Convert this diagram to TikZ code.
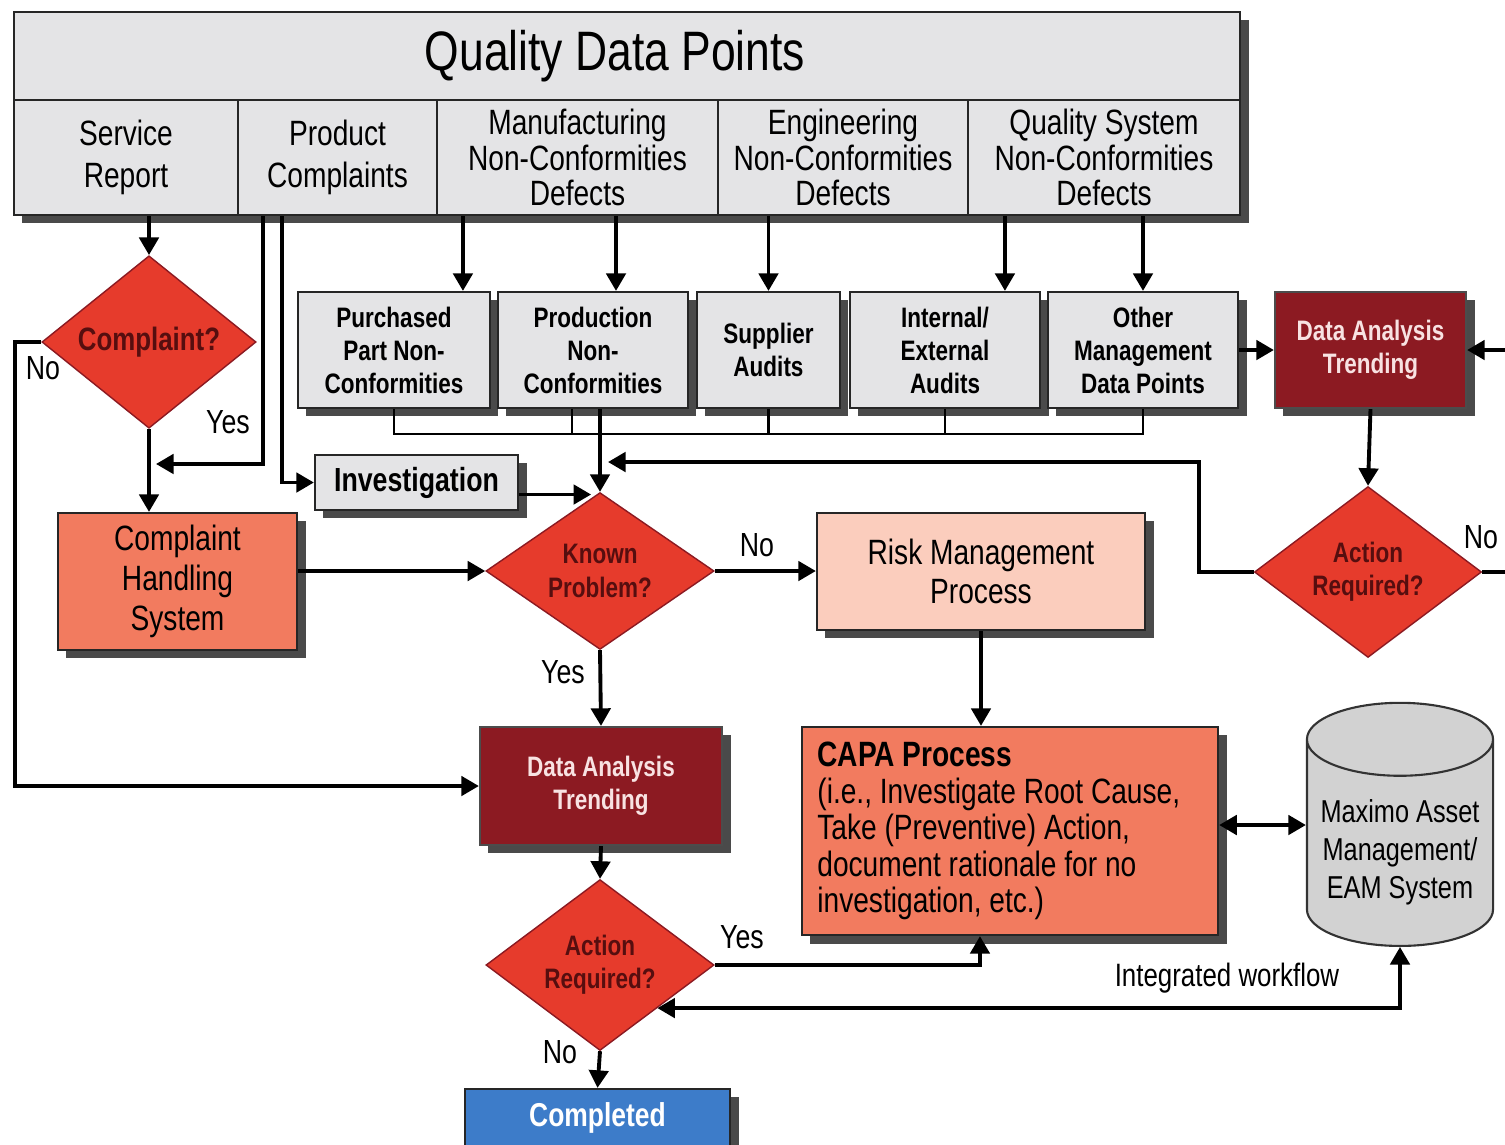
\documentclass[tikz,border=0pt]{standalone}
\usepackage{fontspec}
\setmainfont{Liberation Sans}[FakeStretch=0.8]
\usetikzlibrary{arrows.meta,shapes.geometric,shadows}
\definecolor{boxgray}{HTML}{E4E4E6}
\definecolor{shadowgray}{HTML}{4A4A4A}
\definecolor{dmdred}{HTML}{E63B2C}
\definecolor{dmdtext}{HTML}{560E0F}
\definecolor{darkred}{HTML}{8C1A22}
\definecolor{pinkwhite}{HTML}{F8E2E2}
\definecolor{salmon}{HTML}{F27B5F}
\definecolor{riskpink}{HTML}{FBCDBD}
\definecolor{doneblue}{HTML}{3D7CC9}
\definecolor{cylgray}{HTML}{D2D2D2}
\tikzset{
  boxshadow/.style={general shadow={fill=shadowgray, shadow xshift=2.4pt, shadow yshift=-2.4pt}},
  hdr/.style={draw=black!85, fill=boxgray, line width=.6pt, boxshadow, align=center, inner ysep=1pt, minimum height=1.15cm, font=\fontsize{10}{10.2}\selectfont},
  graybox/.style={draw=black!85, fill=boxgray, line width=.6pt, boxshadow, align=center, minimum height=1.16cm, font=\bfseries\fontsize{8}{9.4}\selectfont},
  redbox/.style={draw=black!70, fill=darkred, text=pinkwhite, line width=.6pt, boxshadow, align=center, font=\bfseries\fontsize{8}{9.4}\selectfont},
  decision/.style={diamond, draw=darkred, fill=dmdred, text=dmdtext, inner sep=0pt, align=center, font=\bfseries\fontsize{8}{9.5}\selectfont},
  procbox/.style={draw=black!85, line width=.6pt, boxshadow, align=center, font=\fontsize{10}{11.3}\selectfont},
  lbl/.style={font=\fontsize{9.5}{11}\selectfont},
  bracket/.style={line width=.7pt},
  arr/.style={line width=1.1pt, -{Triangle[length=5pt,width=5.5pt]}},
  arrboth/.style={line width=1.1pt, {Triangle[length=5pt,width=5.5pt]}-{Triangle[length=5pt,width=5.5pt]}}
}
\begin{document}
\begin{tikzpicture}[x=0.01cm,y=-0.01cm]
\useasboundingbox (0,0) rectangle (1505,1144);
\fill[white] (0,0) rectangle (1505,1144);

\node[hdr, minimum height=.88cm, minimum width=12.26cm, font=\fontsize{15.8}{18}\selectfont] (qdp) at (627,56) {\hspace*{-.24cm}Quality Data Points};
\node[hdr, minimum width=2.24cm, font=\fontsize{10}{11.8}\selectfont] (srv) at (126,157.5) {Service\\Report};
\node[hdr, minimum width=1.99cm, font=\fontsize{10}{11.8}\selectfont] (cmp) at (337.5,157.5) {Product\\Complaints};
\node[hdr, minimum width=2.81cm] (mfg) at (577.5,157.5) {Manufacturing\\Non-Conformities\\Defects};
\node[hdr, minimum width=2.50cm] (eng) at (843,157.5) {Engineering\\Non-Conformities\\Defects};
\node[hdr, minimum width=2.72cm] (qsy) at (1104,157.5) {Quality System\\Non-Conformities\\Defects};

\node[graybox, minimum width=1.92cm] (pnc) at (394,350) {Purchased\\Part Non-\\Conformities};
\node[graybox, minimum width=1.90cm] (prd) at (593,350) {Production\\Non-\\Conformities};
\node[graybox, minimum width=1.43cm] (sup) at (768.5,350) {Supplier\\Audits};
\node[graybox, minimum width=1.90cm] (aud) at (945,350) {Internal/\\External\\Audits};
\node[graybox, minimum width=1.90cm] (oth) at (1143,350) {Other\\Management\\Data Points};
\node[redbox, minimum width=1.91cm, minimum height=1.16cm] (dat1) at (1370.5,350) {Data Analysis\\Trending};
\node[graybox, minimum width=2.03cm, minimum height=.55cm, font=\bfseries\fontsize{9.5}{11}\selectfont] (inv) at (416.5,482.5) {Investigation};

\node[decision, minimum width=2.14cm, minimum height=1.37cm, font=\bfseries\fontsize{9.2}{11}\selectfont] (cq) at (149,342) {Complaint?};
\node[decision, minimum width=2.28cm, minimum height=1.42cm] (kp) at (600,571) {Known\\Problem?};
\node[decision, minimum width=2.27cm, minimum height=1.47cm] (ar2) at (1368,572) {Action\\Required?};
\node[decision, minimum width=2.28cm, minimum height=1.44cm] (ar1) at (600,965) {Action\\Required?};

\node[procbox, fill=salmon, minimum width=2.39cm, minimum height=1.37cm] (chs) at (177.5,581.5) {Complaint\\Handling\\System};
\node[procbox, fill=riskpink, minimum width=3.28cm, minimum height=1.17cm] (risk) at (981,571.5) {Risk Management\\Process};
\node[redbox, minimum width=2.42cm, minimum height=1.18cm] (dat2) at (601,786) {Data Analysis\\Trending};
\node[procbox, fill=salmon, minimum width=4.16cm, minimum height=2.08cm, align=flush left, text width=3.85cm, font=\fontsize{10}{10.4}\selectfont] (capa) at (1010,831) {\textbf{CAPA Process}\\(i.e., Investigate Root Cause,\\Take (Preventive) Action,\\document rationale for no\\investigation, etc.)};
\node[cylinder, shape border rotate=90, aspect=.4, draw=black!80, line width=.6pt, fill=cylgray, minimum width=1.86cm, minimum height=2.43cm, align=center, font=\fontsize{9}{10.8}\selectfont] (cyl) at (1400,852) {Maximo Asset\\Management/\\EAM System};
\node[procbox, fill=doneblue, text=white, minimum width=2.65cm, minimum height=.58cm, font=\bfseries\fontsize{9.4}{11}\selectfont] (done) at (597.5,1118) {Completed};

\node[lbl] (no1) at (43,368) {No};
\node[lbl] (yes1) at (228,422) {Yes};
\node[lbl] (no2) at (757,545) {No};
\node[lbl] (yes2) at (563,672) {Yes};
\node[lbl] (no3) at (1481,537) {No};
\node[lbl] (yes3) at (742,937) {Yes};
\node[lbl] (no4) at (560,1052) {No};
\node[lbl, font=\fontsize{9.2}{11}\selectfont] (iwf) at (1227,978) {Integrated workflow};

\coordinate (pc1) at ([xshift=-.745cm]cmp.south);
\coordinate (pc2) at ([xshift=-.555cm]cmp.south);
\coordinate (mf1) at ([xshift=-1.145cm]mfg.south);
\coordinate (mf2) at ([xshift=.385cm]mfg.south);
\coordinate (qs1) at ([xshift=-.99cm]qsy.south);
\coordinate (kpin) at ([xshift=.08cm]kp.north |- 0,462);
\coordinate (cpe) at ([yshift=.06cm]capa.east);

\draw[arr] (cq.north |- srv.south) -- (cq.north);
\draw[arr] (pc1) |- ([xshift=.07cm,yshift=-.35cm]cq.south);
\draw[arr] (pc2) |- (inv.west);
\draw[arr] (mf1) -- (mf1 |- pnc.north);
\draw[arr] (mf2) -- (mf2 |- prd.north);
\draw[arr] (sup.north |- eng.south) -- (sup.north);
\draw[arr] (qs1) -- (qs1 |- aud.north);
\draw[arr] (oth.north |- qsy.south) -- (oth.north);

\draw[bracket] (pnc.south) -- ([yshift=-.25cm]pnc.south) -- ([yshift=-.25cm]oth.south) -- (oth.south);
\draw[bracket] ([xshift=-.21cm]prd.south) -- ++(0,25);
\draw[bracket] (sup.south) -- ++(0,25);
\draw[bracket] (aud.south) -- ++(0,25);

\draw[arr] (kp.north |- prd.south) -- (kp.north);
\draw[arr] ([yshift=-.12cm]inv.east) -- ++(72,0);
\draw[arr] (ar2.west) -- ++(-55,0) |- (kpin);
\draw[arr] (oth.east) -- (dat1.west);
\draw[arr] (dat1.south) -- (ar2.north);
\draw[arr] (ar2.east) -- ++(60,0) |- (dat1.east);

\draw[arr] (cq.south) -- (cq.south |- chs.north);
\draw[arr] (cq.west) -- ++(-26,0) |- (dat2.west);
\draw[arr] (chs.east |- kp.west) -- (kp.west);
\draw[arr] (kp.east) -- (risk.west |- kp.east);
\draw[arr] (kp.south) -- (dat2.north);
\draw[arr] (risk.south) -- (risk.south |- capa.north);
\draw[arrboth] (cpe) -- (cyl.west |- cpe);
\draw[arr] (dat2.south) -- (ar1.north);
\draw[arr] (ar1.east) -| ([xshift=-.3cm]capa.south);
\draw[arrboth] (ar1.south east) -- (cyl.south |- ar1.south east) -- (cyl.south);
\draw[arr] (ar1.south) -- (done.north);
\end{tikzpicture}
\end{document}
